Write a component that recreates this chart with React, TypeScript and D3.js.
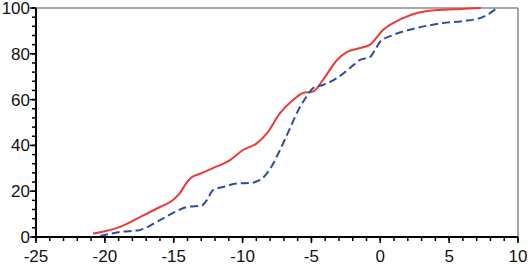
import React from "react";
import * as d3 from "d3";

const xTicks = [-25, -20, -15, -10, -5, 0, 5, 10];
const yTicks = [0, 20, 40, 60, 80, 100];

const redX = [-20.86, -20, -18.9, -17.45, -16, -15.05, -14.55, -14.03, -13.67, -13.09, -12.15, -10.91, -9.97, -8.95, -8.22, -7.28, -6.34, -5.61, -4.88, -4.16, -3.14, -2.41, -1.47, -0.74, 0.2, 1.65, 2.67, 4.12, 5.8, 7.3];
const redY = [1.5, 2.5, 4.4, 8.7, 13.1, 16.2, 19.2, 24, 26.2, 27.6, 30.1, 33.6, 38, 41, 45.4, 54.1, 59.8, 62.9, 63.5, 68.6, 77.3, 80.8, 82.5, 84, 90.4, 95.6, 97.8, 99.1, 99.6, 100];

const blueX = [-20.35, -18.9, -17.45, -16, -15.05, -14.03, -13.3, -13.0, -12.58, -12.15, -11.42, -10.4, -9.46, -8.73, -8.15, -7.28, -6.55, -5.83, -5.32, -4.88, -4.16, -3.14, -2.2, -1.47, -0.74, -0.38, -0.02, 0.93, 2.67, 4.56, 6.0, 7.24, 7.97, 8.48];
const blueY = [0.4, 2.2, 3.1, 7.4, 10.5, 13.1, 13.5, 13.6, 16.2, 20.5, 21.8, 23.4, 23.6, 24.9, 28.4, 38, 47.6, 56.8, 61.6, 65, 66.4, 69.4, 73.8, 77.3, 78.6, 81.7, 85.2, 88.2, 91.3, 93.4, 94.3, 95.6, 97.8, 100];

export default function App() {
  const W = 532, H = 266;
  const left = 36, right = 518, top = 8, bottom = 237;
  const x = d3.scaleLinear().domain([-25, 10]).range([left, right]);
  const y = d3.scaleLinear().domain([0, 100]).range([bottom, top]);
  const line = d3.line<[number, number]>().x(d => x(d[0])).y(d => y(d[1])).curve(d3.curveMonotoneX);
  const red = line(redX.map((v, i) => [v, redY[i]]) as [number, number][]) || "";
  const blue = line(blueX.map((v, i) => [v, blueY[i]]) as [number, number][]) || "";
  const xMinor = d3.range(-25, 10.01, 1);
  const yMinor = d3.range(0, 100.01, 4);
  const font = "'Liberation Sans', Arial, sans-serif";
  return (
    <svg width={W} height={H} style={{ position: "absolute", left: 0, top: 0, background: "#fff" }}>
      <line x1={left} x2={right} y1={top} y2={top} stroke="#8a8a8a" strokeWidth={1.5} />
      <line x1={right} x2={right} y1={top} y2={bottom} stroke="#8a8a8a" strokeWidth={1.5} />
      <path d={red} fill="none" stroke="#ec3b35" strokeWidth={2} />
      <path d={blue} fill="none" stroke="#2f4d9f" strokeWidth={2} strokeDasharray="8,4" />
      <line x1={left} x2={right} y1={bottom} y2={bottom} stroke="#000" strokeWidth={2} />
      <line x1={left} x2={left} y1={top} y2={bottom} stroke="#000" strokeWidth={2} />
      {xMinor.map(v => (
        <line key={"xm" + v} x1={x(v)} x2={x(v)} y1={bottom} y2={bottom + 4} stroke="#000" strokeWidth={1.5} />
      ))}
      {xTicks.map(v => (
        <g key={"xt" + v}>
          <line x1={x(v)} x2={x(v)} y1={bottom} y2={bottom + 6} stroke="#000" strokeWidth={1.5} />
          <text x={x(v)} y={bottom + 25} textAnchor="middle" fontFamily={font} fontSize={17} fill="#111">{v}</text>
        </g>
      ))}
      {yMinor.map(v => (
        <line key={"ym" + v} x1={left - 4} x2={left} y1={y(v)} y2={y(v)} stroke="#000" strokeWidth={1.5} />
      ))}
      {yTicks.map(v => (
        <g key={"yt" + v}>
          <line x1={left - 6} x2={left} y1={y(v)} y2={y(v)} stroke="#000" strokeWidth={1.5} />
          <text x={left - 6} y={y(v) + 6} textAnchor="end" fontFamily={font} fontSize={17} fill="#111">{v}</text>
        </g>
      ))}
    </svg>
  );
}
